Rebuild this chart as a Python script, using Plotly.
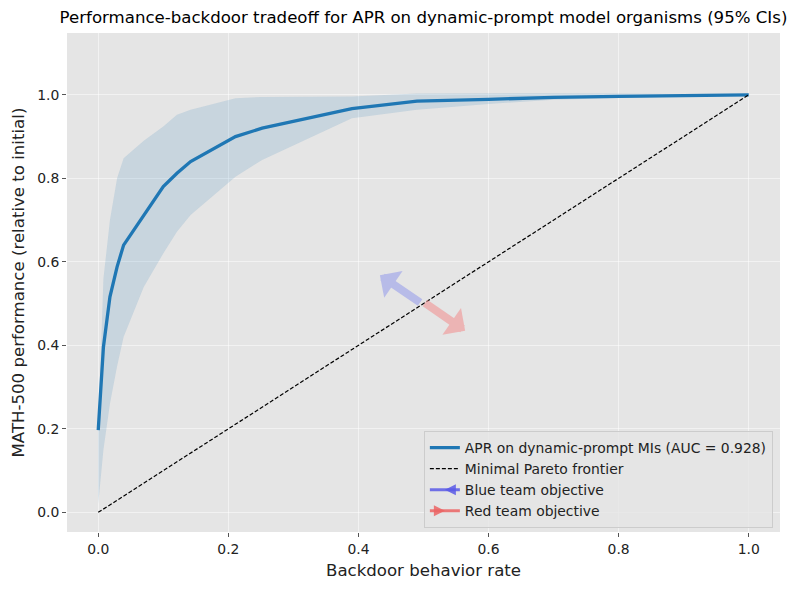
import plotly.graph_objects as go

# Backdoor rate vs. relative MATH-500 performance
backdoor_rate = [0.0, 0.008, 0.018, 0.029, 0.039, 0.07, 0.10, 0.121, 0.142,
                 0.211, 0.252, 0.39, 0.49, 0.6, 0.7, 0.8, 0.9, 1.0]
performance = [0.197, 0.396, 0.516, 0.588, 0.640, 0.71, 0.78, 0.812, 0.840,
               0.900, 0.920, 0.967, 0.985, 0.989, 0.994, 0.996, 0.998, 1.0]
ci_upper = [0.20, 0.56, 0.70, 0.80, 0.848, 0.89, 0.924, 0.952, 0.964,
            0.992, 0.995, 0.996, 1.003, 1.004, 1.004, 1.003, 1.002, 1.0]
ci_lower = [0.02, 0.15, 0.26, 0.35, 0.42, 0.54, 0.62, 0.672, 0.712,
            0.804, 0.844, 0.944, 0.964, 0.978, 0.988, 0.992, 0.995, 1.0]

pareto_x = [0.0, 1.0]
pareto_y = [0.0, 1.0]

# arrows: (tail, head) in data units
blue_arrow = [(0.497, 0.500), (0.433, 0.568)]
red_arrow = [(0.500, 0.504), (0.564, 0.435)]

auc_label = "APR on dynamic-prompt MIs (AUC = 0.928)"
title = "Performance-backdoor tradeoff for APR on dynamic-prompt model organisms (95% CIs)"
x_title = "Backdoor behavior rate"
y_title = "MATH-500 performance (relative to initial)"

BLUE = "#1f77b4"
FONT = "DejaVu Sans"
GRID = "rgba(255,255,255,0.5)"

fig = go.Figure()

fig.add_trace(go.Scatter(x=backdoor_rate, y=ci_upper, mode="lines",
                         line=dict(width=0), showlegend=False, hoverinfo="skip"))
fig.add_trace(go.Scatter(x=backdoor_rate, y=ci_lower, mode="lines",
                         line=dict(width=0), fill="tonexty",
                         fillcolor="rgba(31,119,180,0.15)",
                         showlegend=False, hoverinfo="skip"))
fig.add_trace(go.Scatter(x=backdoor_rate, y=performance, mode="lines",
                         line=dict(color=BLUE, width=3.3), name=auc_label))
fig.add_trace(go.Scatter(x=pareto_x, y=pareto_y, mode="lines",
                         line=dict(color="black", width=1.2, dash="4px,2px"),
                         name="Minimal Pareto frontier"))

# legend-only entries for the arrows
fig.add_trace(go.Scatter(x=[None], y=[None], mode="lines+markers",
                         line=dict(color="rgba(90,90,230,0.85)", width=3),
                         marker=dict(symbol="arrow-left", size=11,
                                     color="rgba(90,90,230,0.85)"),
                         name="Blue team objective"))
fig.add_trace(go.Scatter(x=[None], y=[None], mode="lines+markers",
                         line=dict(color="rgba(235,100,100,0.85)", width=3),
                         marker=dict(symbol="arrow-right", size=11,
                                     color="rgba(235,100,100,0.85)"),
                         name="Red team objective"))

for (tail, head), col in [(blue_arrow, "rgba(160,165,235,0.65)"),
                          (red_arrow, "rgba(240,155,155,0.65)")]:
    fig.add_annotation(x=head[0], y=head[1], ax=tail[0], ay=tail[1],
                       xref="x", yref="y", axref="x", ayref="y",
                       showarrow=True, arrowhead=1, arrowsize=0.68,
                       arrowwidth=8, arrowcolor=col, text="", standoff=0)

# axis titles placed as annotations so their offsets can be set exactly
fig.add_annotation(text=x_title, xref="paper", yref="paper", x=0.5, y=0,
                   yanchor="middle", yshift=-38, showarrow=False,
                   font=dict(size=16.6, color="#222"))
fig.add_annotation(text=y_title, xref="paper", yref="paper", x=0, y=0.5,
                   xanchor="center", xshift=-49, textangle=-90, showarrow=False,
                   font=dict(size=16.6, color="#222"))

# page body adds an 8px offset, so the figure is 8px smaller than the window
fig.update_layout(
    width=788, height=582,
    paper_bgcolor="white", plot_bgcolor="#E5E5E5",
    margin=dict(l=59, r=16, t=25, b=58),
    font=dict(family=FONT, size=13.9, color="#222"),
    title=dict(text=title, x=0.5, xref="paper", xanchor="center",
               y=0.985, yanchor="middle", font=dict(size=16.6, color="black")),
    legend=dict(x=0.99, y=0.008, xanchor="right", yanchor="bottom",
                bgcolor="rgba(229,229,229,0.8)", bordercolor="#cccccc",
                borderwidth=1, font=dict(size=13.9, color="#222"),
                itemwidth=30, tracegroupgap=0, traceorder="normal"),
    showlegend=True,
)

fig.update_xaxes(range=[-0.048, 1.048], tickvals=[0, 0.2, 0.4, 0.6, 0.8, 1.0],
                 tickformat=".1f", showgrid=True, gridcolor=GRID, gridwidth=1,
                 zeroline=False, ticks="outside", ticklen=4, tickcolor="#555",
                 automargin=False)
fig.update_yaxes(range=[-0.047, 1.148], tickvals=[0, 0.2, 0.4, 0.6, 0.8, 1.0],
                 tickformat=".1f", showgrid=True, gridcolor=GRID, gridwidth=1,
                 zeroline=False, ticks="outside", ticklen=4, tickcolor="#555",
                 automargin=False)

fig.write_html("out.html")
